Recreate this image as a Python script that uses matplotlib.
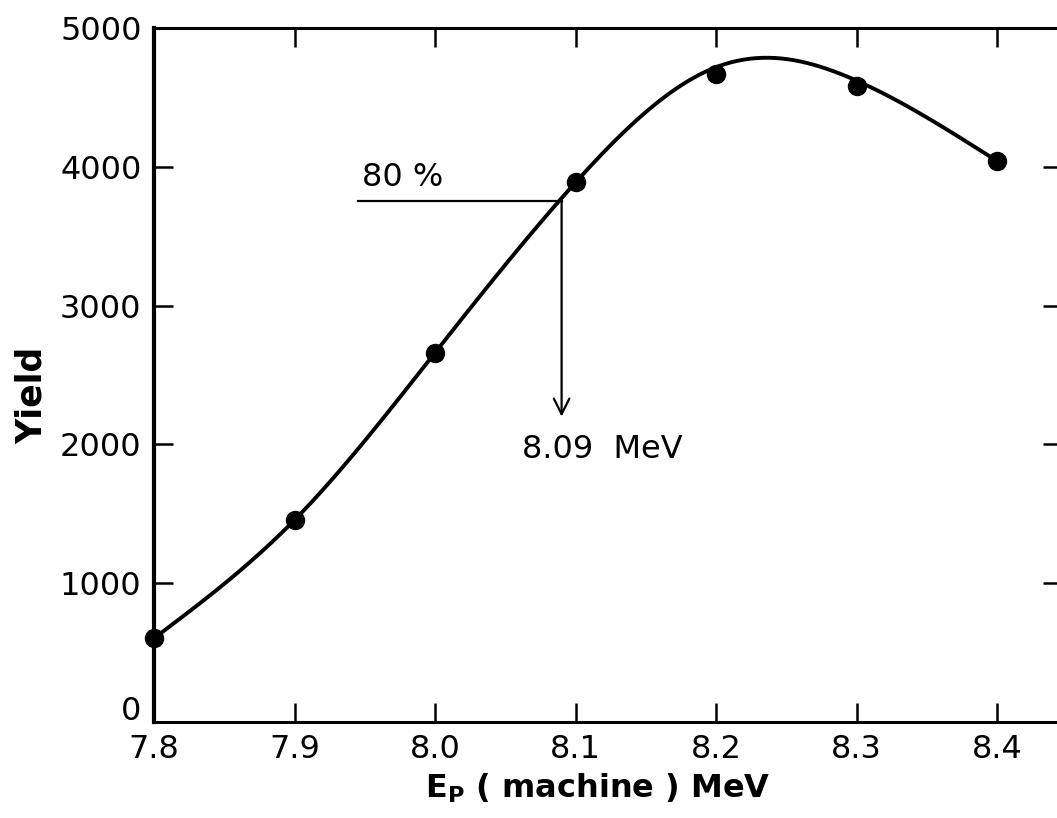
import numpy as np
import matplotlib
matplotlib.use("Agg")
import matplotlib.pyplot as plt
import matplotlib.transforms as mtransforms

# Data
energy = [7.8, 7.9, 8.0, 8.1, 8.2, 8.3, 8.4]
yield_counts = [603, 1455, 2661, 3888, 4668, 4581, 4040]
# hand-drawn guide curve
curve_energy = [7.8, 7.9, 8.0, 8.1, 8.2, 8.243, 8.3, 8.4]
curve_yield = [603, 1455, 2661, 3888, 4718, 4783, 4620, 4040]
x_ticks = [7.8, 7.9, 8.0, 8.1, 8.2, 8.3, 8.4]
x_tick_labels = ["7.8", "7.9", "8.0", "8.1", "8.2", "8.3", "8.4"]
y_ticks = [0, 1000, 2000, 3000, 4000, 5000]
y_tick_labels = ["0", "1000", "2000", "3000", "4000", "5000"]
level_80 = 3757
level_start = 7.945
e_80 = 8.09
arrow_end = 2200


def natural_spline(x, y, xs):
    x = np.asarray(x, float); y = np.asarray(y, float)
    n = len(x)
    h = np.diff(x)
    A = np.zeros((n, n)); b = np.zeros(n)
    A[0, 0] = 1; A[-1, -1] = 1
    for i in range(1, n - 1):
        A[i, i - 1] = h[i - 1]
        A[i, i] = 2 * (h[i - 1] + h[i])
        A[i, i + 1] = h[i]
        b[i] = 3 * ((y[i + 1] - y[i]) / h[i] - (y[i] - y[i - 1]) / h[i - 1])
    c = np.linalg.solve(A, b)
    bb = np.zeros(n - 1); d = np.zeros(n - 1)
    for i in range(n - 1):
        bb[i] = (y[i + 1] - y[i]) / h[i] - h[i] * (2 * c[i] + c[i + 1]) / 3
        d[i] = (c[i + 1] - c[i]) / (3 * h[i])
    idx = np.clip(np.searchsorted(x, xs) - 1, 0, n - 2)
    dx = xs - x[idx]
    return y[idx] + bb[idx] * dx + c[idx] * dx ** 2 + d[idx] * dx ** 3


plt.rcParams['font.family'] = ['DejaVu Sans']

fig = plt.figure(figsize=(10.57, 8.18), dpi=100)
ax = fig.add_axes([0.1457, 0.1174, 0.859, 0.8484])

xs = np.linspace(curve_energy[0], curve_energy[-1], 400)
ax.plot(xs, natural_spline(curve_energy, curve_yield, xs), color="black", lw=2.8,
        clip_on=False, zorder=3)
ax.plot(energy, yield_counts, "o", color="black", markersize=13, clip_on=False, zorder=4)

ax.plot([level_start, e_80], [level_80, level_80], color="black", lw=1.6)
ax.annotate("", xy=(e_80, arrow_end), xytext=(e_80, level_80),
            arrowprops=dict(arrowstyle="->", color="black", lw=1.6,
                            mutation_scale=28, shrinkA=0, shrinkB=0))
ax.text(7.948, 3925, "80 %", fontsize=23, ha="left", va="center")
ax.text(8.062, 1965, "8.09  MeV", fontsize=23, ha="left", va="center")

ax.set_xlim(7.8, 8.446)
ax.set_ylim(0, 5000)
ax.set_xticks(x_ticks)
ax.set_xticklabels(x_tick_labels)
ax.set_yticks(y_ticks)
ax.set_yticklabels(y_tick_labels)
ax.tick_params(direction="in", length=14, width=1.8, labelsize=23,
               top=True, right=True, pad=9)
ax.tick_params(axis="y", pad=9)
for s in ax.spines.values():
    s.set_linewidth(2.2)
ax.spines["left"].set_linewidth(3)

# raise the "0" label slightly, as in the original, so it clears "7.8"
zero_lbl = ax.get_yticklabels()[0]
zero_lbl.set_transform(zero_lbl.get_transform() +
                       mtransforms.ScaledTranslation(0, 10 / 72, fig.dpi_scale_trans))

ax.set_ylabel("Yield", fontsize=25, fontweight="bold")
ax.yaxis.set_label_coords(-0.116, 0.471)
ax.set_xlabel(r"E$_\mathregular{P}$ ( machine ) MeV", fontsize=23, fontweight="bold")
ax.xaxis.set_label_coords(0.489, -0.072)

fig.savefig("out.png", dpi=100)
